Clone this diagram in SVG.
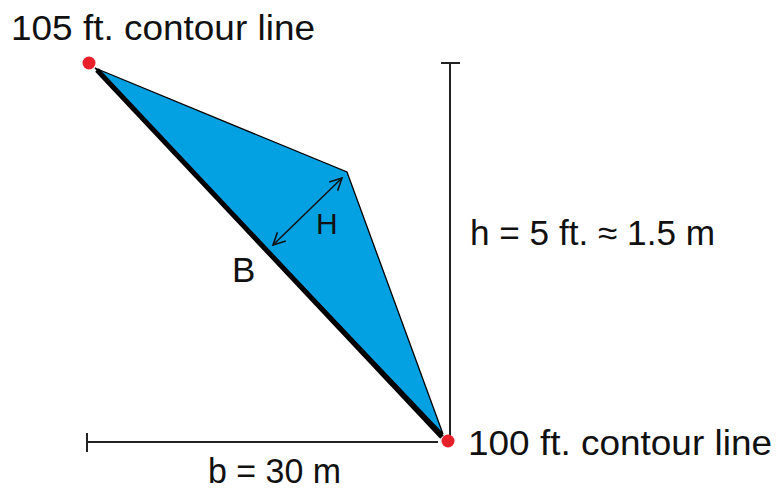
<svg xmlns="http://www.w3.org/2000/svg" width="777" height="489" viewBox="0 0 777 489">
<defs>
<style>
.lbl{font-family:"Liberation Sans",Arial,sans-serif;font-size:35px;fill:#111;}
.dim{stroke:#222;stroke-width:2;fill:none;}
.dot{fill:#E8202A;}
</style>
<marker id="arr" viewBox="0 0 14 14" refX="13" refY="7" markerWidth="14" markerHeight="14" markerUnits="userSpaceOnUse" orient="auto-start-reverse">
<path d="M1,1 L13,7 L1,13" fill="none" stroke="#111" stroke-width="1.6"/>
</marker>
</defs>
<rect width="777" height="489" fill="#fff"/>
<g id="region">
<polygon points="95,68 347,172 443,434 98,71" fill="#03A0E2" stroke="#000" stroke-width="1.3"/>
</g>
<g id="connectors">
<line id="base-B" x1="97" y1="70" x2="442" y2="437" stroke="#000" stroke-width="5"/>
<line id="H-arrow" x1="273" y1="245" x2="342" y2="178" stroke="#111" stroke-width="1.5" marker-start="url(#arr)" marker-end="url(#arr)"/>
<g id="dim-h">
<line class="dim" x1="450" y1="63" x2="450" y2="436"/>
<line class="dim" x1="441" y1="63" x2="460" y2="63"/>
</g>
<g id="dim-b">
<line class="dim" x1="87" y1="442" x2="438" y2="442"/>
<line class="dim" x1="87" y1="433" x2="87" y2="452"/>
</g>
</g>
<g id="pt-105">
<circle class="dot" cx="89" cy="63" r="6.5"/>
<text class="lbl" x="11" y="40" textLength="304" lengthAdjust="spacingAndGlyphs">105 ft. contour line</text>
</g>
<g id="pt-100">
<circle class="dot" cx="448" cy="441" r="6.5"/>
<text class="lbl" x="468" y="455" textLength="304" lengthAdjust="spacingAndGlyphs">100 ft. contour line</text>
</g>
<g id="label-h">
<text class="lbl" x="470" y="245" textLength="245" lengthAdjust="spacingAndGlyphs">h = 5 ft. ≈ 1.5 m</text>
</g>
<g id="label-b">
<text class="lbl" x="208" y="483" textLength="133" lengthAdjust="spacingAndGlyphs">b = 30 m</text>
</g>
<g id="label-B">
<text class="lbl" x="232" y="282">B</text>
</g>
<g id="label-H">
<text class="lbl" x="316" y="234" style="font-size:30px">H</text>
</g>
</svg>
